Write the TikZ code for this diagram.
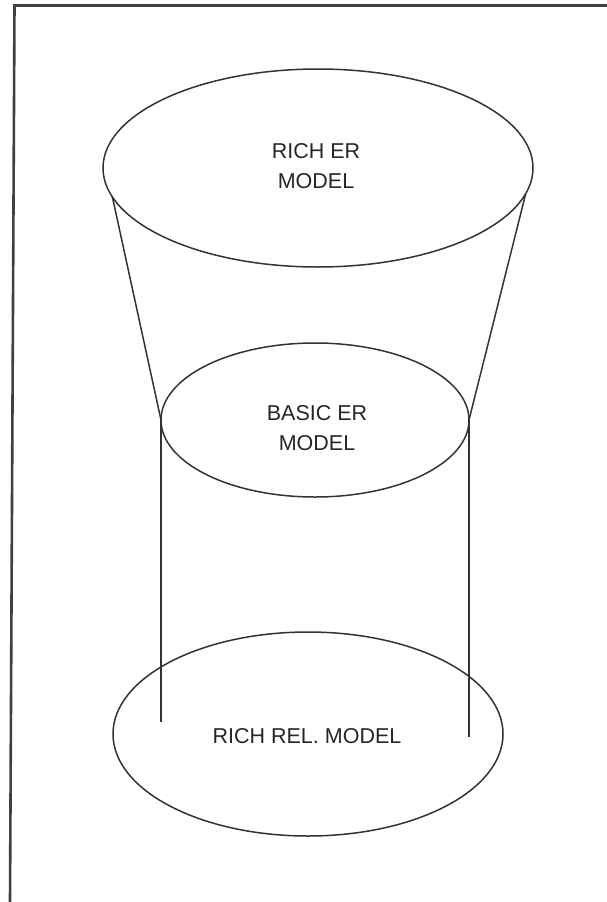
\documentclass[tikz,border=0pt]{standalone}
\usepackage{fontspec}
\setmainfont{Liberation Sans}
\usetikzlibrary{shapes.geometric}

\tikzset{
  model/.style={ellipse, draw=black!80, line width=1.5pt, inner sep=0pt, outer sep=0pt},
  modeltext/.style={align=center, text=black!85, inner sep=0pt,
    font=\fontsize{21.5}{30}\selectfont},
  edge/.style={draw=black!80, line width=1.5pt},
  frame/.style={draw=black!75, line width=2.6pt}
}

\begin{document}
\begin{tikzpicture}[x=1pt, y=-1pt]
  \useasboundingbox (0,0) rectangle (607,902);

  % frame (top and left sides only)
  \coordinate (fbl) at (10,903);
  \coordinate (ftl) at (14.5,5.5);
  \coordinate (ftr) at (608,5.5);
  \draw[frame] (fbl) -- (ftl) -- (ftr);

  % the three models
  \node[model, minimum width=430pt, minimum height=198pt] (rich) at (318,168) {};
  \node[model, minimum width=308pt, minimum height=154pt] (basic) at (315,420) {};
  \node[model, minimum width=390pt, minimum height=204pt] (rel) at (308,734) {};

  \node[modeltext] (richtxt) at (316,166) {RICH ER\\MODEL};
  \node[modeltext] (basictxt) at (317,428) {BASIC ER\\MODEL};
  \node[modeltext] (reltxt) at (307,736.5) {RICH REL. MODEL};

  % funnel from the rich ER model down to the basic one
  \draw[edge] (rich.188) -- (basic.west);
  \draw[edge] (rich.353) -- (basic.east);

  % uprights reaching into the relational model
  \coordinate (lfoot) at (161,722);
  \coordinate (rfoot) at (469,737);
  \draw[edge] (basic.west) -- (lfoot);
  \draw[edge] (basic.east) -- (rfoot);
\end{tikzpicture}
\end{document}
